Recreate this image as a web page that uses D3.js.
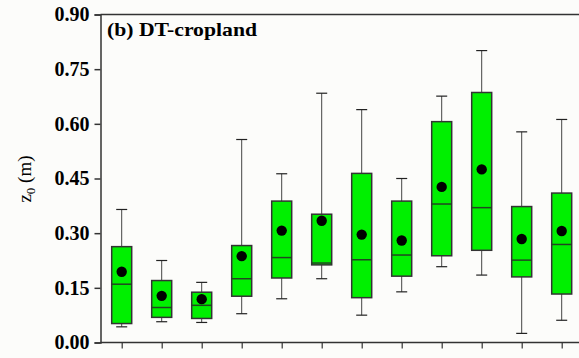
<!DOCTYPE html>
<html>
<head>
<meta charset="utf-8">
<script src="https://cdn.jsdelivr.net/npm/d3@7"></script>
<style>
  body { margin: 0; background: #fcfcfa; }
  svg { display: block; }
</style>
</head>
<body>
<script>
// box statistics, one entry per box
var whiskerLow  = [0.043, 0.057, 0.055, 0.079, 0.120, 0.175, 0.075, 0.139, 0.208, 0.185, 0.025, 0.061];
var q1          = [0.052, 0.069, 0.066, 0.127, 0.177, 0.213, 0.123, 0.182, 0.238, 0.253, 0.180, 0.133];
var medians     = [0.160, 0.096, 0.102, 0.175, 0.233, 0.218, 0.227, 0.240, 0.380, 0.370, 0.226, 0.269];
var q3          = [0.263, 0.170, 0.138, 0.266, 0.388, 0.352, 0.464, 0.388, 0.606, 0.686, 0.373, 0.410];
var whiskerHigh = [0.365, 0.225, 0.165, 0.557, 0.463, 0.684, 0.639, 0.450, 0.676, 0.801, 0.578, 0.612];
var means       = [0.194, 0.128, 0.119, 0.237, 0.307, 0.334, 0.296, 0.280, 0.427, 0.475, 0.284, 0.306];
var yTicks      = [0.00, 0.15, 0.30, 0.45, 0.60, 0.75, 0.90];

var width = 579;
var height = 358;
var plotLeft = 100.5;
var plotTop = 14.5;
var plotBottom = 342.5;
var boxWidth = 20;
var capWidth = 11;

var svg = d3.select('body')
    .append('svg')
    .attr('width', width)
    .attr('height', height);

var x = d3.scaleLinear()
    .domain([0, 11])
    .range([121.7, 561.7]);

var y = d3.scaleLinear()
    .domain([0, 0.9])
    .range([plotBottom, plotTop]);

// top frame line
svg.append('line')
    .attr('x1', plotLeft)
    .attr('x2', width + 5)
    .attr('y1', plotTop)
    .attr('y2', plotTop)
    .attr('stroke', '#333')
    .attr('stroke-width', 1.5);

// y axis
var yAxis = svg.append('g')
    .attr('transform', 'translate(' + plotLeft + ',0)')
    .call(d3.axisLeft(y).tickValues(yTicks).tickFormat(d3.format('.2f')).tickSize(6).tickPadding(5));

yAxis.select('.domain').attr('stroke', '#333').attr('stroke-width', 1.5);
yAxis.selectAll('.tick line').attr('stroke', '#333').attr('stroke-width', 1.5);
yAxis.selectAll('.tick text')
    .attr('font-family', 'Liberation Serif')
    .attr('font-weight', 'bold')
    .attr('font-size', 20)
    .attr('fill', '#000');

// x axis, no labels
var xAxis = svg.append('g')
    .attr('transform', 'translate(0,' + plotBottom + ')')
    .call(d3.axisBottom(x).tickValues(d3.range(means.length)).tickFormat('').tickSize(6).tickSizeOuter(0));

xAxis.select('.domain')
    .attr('d', 'M' + plotLeft + ',0H' + (width + 5))
    .attr('stroke', '#333')
    .attr('stroke-width', 1.5);
xAxis.selectAll('.tick line').attr('stroke', '#333').attr('stroke-width', 1.2);

// boxes
var boxes = svg.append('g').selectAll('g')
    .data(means)
    .enter()
    .append('g');

boxes.append('line')
    .attr('x1', function (d, i) { return x(i); })
    .attr('x2', function (d, i) { return x(i); })
    .attr('y1', function (d, i) { return y(whiskerLow[i]); })
    .attr('y2', function (d, i) { return y(whiskerHigh[i]); })
    .attr('stroke', '#444')
    .attr('stroke-width', 1);

boxes.append('line')
    .attr('x1', function (d, i) { return x(i) - capWidth / 2; })
    .attr('x2', function (d, i) { return x(i) + capWidth / 2; })
    .attr('y1', function (d, i) { return y(whiskerHigh[i]); })
    .attr('y2', function (d, i) { return y(whiskerHigh[i]); })
    .attr('stroke', '#222')
    .attr('stroke-width', 1.2);

boxes.append('line')
    .attr('x1', function (d, i) { return x(i) - capWidth / 2; })
    .attr('x2', function (d, i) { return x(i) + capWidth / 2; })
    .attr('y1', function (d, i) { return y(whiskerLow[i]); })
    .attr('y2', function (d, i) { return y(whiskerLow[i]); })
    .attr('stroke', '#222')
    .attr('stroke-width', 1.2);

boxes.append('rect')
    .attr('x', function (d, i) { return x(i) - boxWidth / 2; })
    .attr('y', function (d, i) { return y(q3[i]); })
    .attr('width', boxWidth)
    .attr('height', function (d, i) { return y(q1[i]) - y(q3[i]); })
    .attr('fill', '#00f000')
    .attr('stroke', '#333')
    .attr('stroke-width', 1.5);

boxes.append('line')
    .attr('x1', function (d, i) { return x(i) - boxWidth / 2; })
    .attr('x2', function (d, i) { return x(i) + boxWidth / 2; })
    .attr('y1', function (d, i) { return y(medians[i]); })
    .attr('y2', function (d, i) { return y(medians[i]); })
    .attr('stroke', '#224422')
    .attr('stroke-width', 1.5);

boxes.append('circle')
    .attr('cx', function (d, i) { return x(i); })
    .attr('cy', function (d) { return y(d); })
    .attr('r', 5.2)
    .attr('fill', '#000');

// panel title
svg.append('text')
    .attr('x', 107)
    .attr('y', 36)
    .attr('font-family', 'Liberation Serif')
    .attr('font-weight', 'bold')
    .attr('font-size', 19)
    .attr('textLength', 150)
    .attr('lengthAdjust', 'spacingAndGlyphs')
    .attr('fill', '#000')
    .text('(b) DT-cropland');

// y label
var ylab = svg.append('text')
    .attr('transform', 'translate(31,179) rotate(-90)')
    .attr('text-anchor', 'middle')
    .attr('font-family', 'Liberation Serif')
    .attr('font-size', 19)
    .attr('fill', '#000');

ylab.append('tspan').text('z');
ylab.append('tspan').attr('font-size', 13).attr('dy', 4).text('0');
ylab.append('tspan').attr('dy', -4).text(' (m)');
</script>
</body>
</html>
